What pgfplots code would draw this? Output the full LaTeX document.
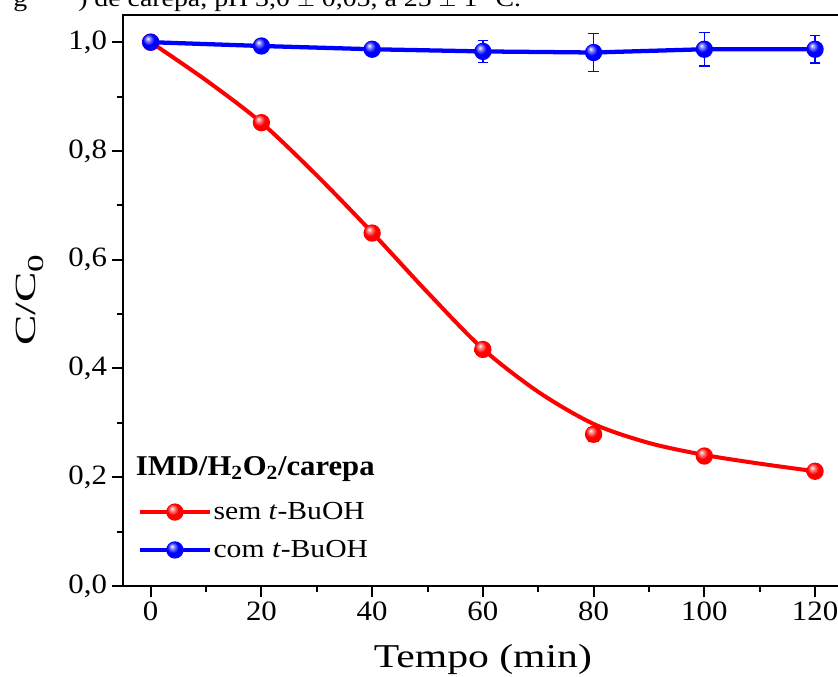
\documentclass[border=0pt]{standalone}
\usepackage{pgfplots}
\pgfplotsset{compat=1.18}
\usepackage{fontspec}
\setmainfont{Liberation Serif}
\newfontfamily\tickfont[FakeStretch=1.1]{Liberation Serif}
\newfontfamily\xlabfont[FakeStretch=1.25]{Liberation Serif}
\newfontfamily\ylabfont[FakeStretch=1.55]{Liberation Serif}
\newfontfamily\legfont[FakeStretch=1.14]{Liberation Serif}
\newfontfamily\titfont[FakeStretch=1.07]{Liberation Serif}
\newfontfamily\capfont[FakeStretch=1.16]{Liberation Serif}

\pgfdeclareradialshading{redballsh}{\pgfqpoint{-9bp}{11bp}}{color(0bp)=(white); color(6bp)=(red!45!white); color(16bp)=(red); color(50bp)=(red)}
\pgfdeclareradialshading{blueballsh}{\pgfqpoint{-9bp}{11bp}}{color(0bp)=(white); color(6bp)=(blue!45!white); color(16bp)=(blue); color(50bp)=(blue)}
\pgfdeclareplotmark{redball}{\pgfpathcircle{\pgfpointorigin}{\pgfplotmarksize}\pgfshadepath{redballsh}{0}\pgfusepath{discard}}
\pgfdeclareplotmark{blueball}{\pgfpathcircle{\pgfpointorigin}{\pgfplotmarksize}\pgfshadepath{blueballsh}{0}\pgfusepath{discard}}

\begin{document}
\begin{tikzpicture}
\path[use as bounding box] (-92.25pt,-68.25pt) rectangle (536.25pt,439.5pt);
\clip (-92.25pt,-68.25pt) rectangle (536.25pt,439.5pt);
\begin{axis}[
  at={(0pt,0pt)}, anchor=south west,
  scale only axis, width=539.8pt, height=428.25pt,
  xmin=-5, xmax=125, ymin=0, ymax=1.05,
  axis line style={line width=1.5pt},
  tick style={line width=1.5pt, black},
  tick align=outside, tick pos=left,
  major tick length=8.5pt, minor tick length=4.5pt,
  xtick={0,20,...,120}, minor x tick num=1,
  ytick={0,0.2,0.4,0.6,0.8,1.0}, minor y tick num=1,
  /pgf/number format/assume math mode=true,
  scaled y ticks=false,
  yticklabel style={/pgf/number format/.cd, fixed, fixed zerofill, precision=1, use comma},
  tick label style={font=\tickfont\fontsize{21}{21}\selectfont},
  xlabel={Tempo (min)}, ylabel={C/C\raisebox{-0.3em}{\fontsize{17}{17}\selectfont 0}},
  xlabel style={font=\xlabfont\fontsize{25}{25}\selectfont, at={(axis description cs:0.5,-0.1419)}, anchor=base},
  ylabel style={font=\ylabfont\fontsize{22}{22}\selectfont, at={(axis description cs:-0.122,0.5)}, anchor=base},
  legend style={draw=none, fill=none, at={(axis description cs:0.0208,0.0963)}, anchor=west,
    inner sep=0pt, row sep=11pt, font=\legfont\fontsize{19.5}{19.5}\selectfont,
    nodes={inner sep=1.5pt}},
  legend cell align=left,
  legend image code/.code={\draw[#1, mark repeat=2, mark phase=2] plot coordinates {(0pt,0pt) (26pt,0pt) (52pt,0pt)};},
]
\addplot[red, line width=3pt, smooth, forget plot] coordinates {
 (0,1.000) (10,0.930) (20,0.852) (30,0.755) (40,0.650) (50,0.540) (60,0.436)
 (70,0.357) (80,0.298) (90,0.263) (100,0.241) (110,0.225) (120,0.211)};
\addplot[blue, line width=3.2pt, forget plot] coordinates {
 (0,1.000) (20,0.993) (40,0.987) (60,0.983) (80,0.981) (100,0.987) (120,0.987)};
\addplot[red, only marks, mark=redball, mark size=6.5pt, forget plot,
  error bars/.cd, y dir=both, y explicit,
  error bar style={line width=1pt, red}, error mark options={rotate=90, mark size=4pt, line width=1pt, red}]
 coordinates {
 (0,1.000) +- (0,0.003)
 (20,0.852) +- (0,0.008)
 (40,0.649) +- (0,0.006)
 (60,0.435) +- (0,0.006)
 (80,0.279) +- (0,0.013)
 (100,0.239) +- (0,0.006)
 (120,0.211) +- (0,0.005)};
\addplot[blue, only marks, mark=blueball, mark size=6.5pt, forget plot,
  error bars/.cd, y dir=both, y explicit,
  error bar style={line width=1pt, blue}, error mark options={rotate=90, mark size=4pt, line width=1pt, blue}]
 coordinates {
 (0,1.000) +- (0,0.003)
 (20,0.993) +- (0,0.004)
 (40,0.987) +- (0,0.006)
 (60,0.983) +- (0,0.020)
 (80,0.981) +- (0,0.035)
 (100,0.987) +- (0,0.031)
 (120,0.987) +- (0,0.025)};
\addlegendimage{red, line width=3pt, mark=redball, mark size=6.5pt}
\addlegendentry{sem \textit{t}-BuOH}
\addlegendimage{blue, line width=3pt, mark=blueball, mark size=6.5pt}
\addlegendentry{com \textit{t}-BuOH}
\node[anchor=base west, inner sep=0pt, font=\titfont\fontsize{21.5}{21.5}\selectfont\bfseries] at (axis cs:-2.71,0.204) {IMD/H\textsubscript{2}O\textsubscript{2}/carepa};
\end{axis}
\node[anchor=base west, inner sep=0pt, font=\capfont\fontsize{18}{18}\selectfont] at (-82.5pt,434.25pt) {g};
\node[anchor=base west, inner sep=0pt, font=\capfont\fontsize{18}{18}\selectfont] at (-33.75pt,434.25pt) {) de carepa, pH 3,0 $\pm$ 0,05, a 25 $\pm$ 1 °C.};
\end{tikzpicture}
\end{document}
